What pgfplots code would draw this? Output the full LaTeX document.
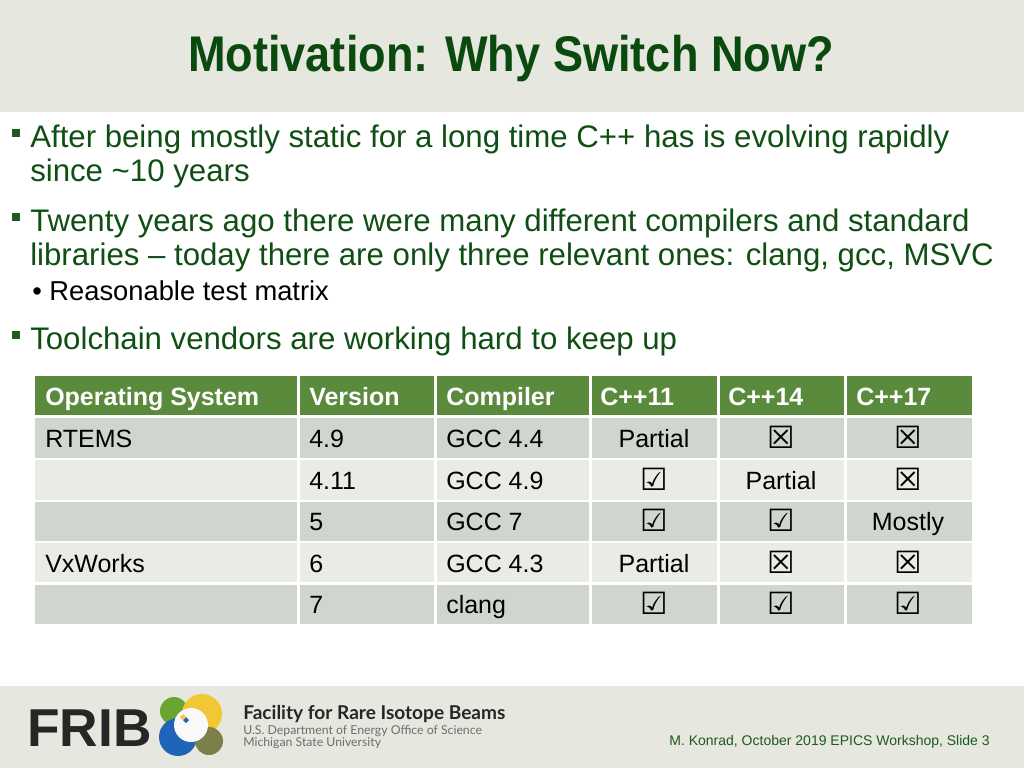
\documentclass[border=0pt]{standalone}
\usepackage{pgfplots}
\pgfplotsset{compat=1.18}
\usepackage{fontspec}
\setmainfont{Liberation Sans}
\newfontfamily\sym{DejaVu Sans}
\newfontfamily\lato{Lato}
\newfontfamily\titlefont[FakeStretch=0.9]{Liberation Sans Bold}

\definecolor{band}{HTML}{E6E7DF}
\definecolor{titlegreen}{HTML}{0A4A0E}
\definecolor{textgreen}{HTML}{0F4F14}
\definecolor{headgreen}{HTML}{5A8B3D}
\definecolor{rowdark}{HTML}{D0D6CF}
\definecolor{rowlight}{HTML}{E8EBE6}
\definecolor{bulletgreen}{HTML}{1E5A1E}
\definecolor{footgreen}{HTML}{1E5A1E}
\definecolor{fribgrey}{HTML}{6D6E70}
\definecolor{cgreen}{HTML}{6AA532}
\definecolor{cyellow}{HTML}{F2C735}
\definecolor{cblue}{HTML}{1F64B8}
\definecolor{colive}{HTML}{7C7F4A}

\newcommand{\body}{\fontsize{23.4}{28}\selectfont}
\newcommand{\sub}{\fontsize{20.5}{24}\selectfont}
\newcommand{\tab}{\fontsize{18.75}{22}\selectfont}
\newcommand{\chk}{\fontsize{23}{26}\selectfont\sym\bfseries}

\begin{document}
\begin{tikzpicture}
\begin{axis}[width=768pt, height=576pt, scale only axis,
  xmin=0, xmax=1024, ymin=0, ymax=768, y dir=reverse,
  hide axis, clip=false]
% background bands
\fill[white] (0,0) rectangle (1024,768);
\fill[band] (0,0) rectangle (1024,112);
\fill[band] (0,686) rectangle (1024,768);

% title
\node[text=titlegreen, font=\fontsize{37.6}{40}\selectfont\titlefont] at (511,59) {Motivation: Why Switch Now?};

% bullets
\fill[bulletgreen] (12,129) rectangle (20,137);
\fill[bulletgreen] (12,213) rectangle (20,221);
\fill[bulletgreen] (12,331) rectangle (20,339);
\begin{scope}[every node/.style={anchor=base west, inner sep=0, font=\body, text=textgreen}]
\node at (30,147) {After being mostly static for a long time C++ has is evolving rapidly};
\node at (30,181) {since {\char"7E}10 years};
\node at (30,231) {Twenty years ago there were many different compilers and standard};
\node at (30,265) {libraries -- today there are only three relevant ones: clang, gcc, MSVC};
\node at (30,349) {Toolchain vendors are working hard to keep up};
\end{scope}
\node[anchor=base west, inner sep=0, font=\sub] at (32,300) {\textbullet\ Reasonable test matrix};

% table rows
\fill[headgreen] (35,376) rectangle (972,415);
\fill[rowdark] (35,418) rectangle (972,458);
\fill[rowlight] (35,460) rectangle (972,500);
\fill[rowdark] (35,502) rectangle (972,541);
\fill[rowlight] (35,543) rectangle (972,582);
\fill[rowdark] (35,585) rectangle (972,624);
\draw[white, line width=2.25pt] (298,376) -- (298,624) (435,376) -- (435,624)
  (590,376) -- (590,624) (718,376) -- (718,624) (845,376) -- (845,624);

% header
\begin{scope}[every node/.style={anchor=base west, inner sep=0, text=white, font=\tab\bfseries}]
\node at (45,405) {Operating System};
\node at (309,405) {Version};
\node at (446,405) {Compiler};
\node at (600,405) {C++11};
\node at (728,405) {C++14};
\node at (856,405) {C++17};
\end{scope}

% body cells
\begin{scope}[every node/.style={anchor=base west, inner sep=0, font=\tab}]
\node at (45,447) {RTEMS};
\node at (45,572) {VxWorks};
\node at (309,447) {4.9};
\node at (309,489) {4.11};
\node at (309,530) {5};
\node at (309,572) {6};
\node at (309,613) {7};
\node at (446,447) {GCC 4.4};
\node at (446,489) {GCC 4.9};
\node at (446,530) {GCC 7};
\node at (446,572) {GCC 4.3};
\node at (446,613) {clang};
\end{scope}

\begin{scope}[every node/.style={anchor=base, inner sep=0, font=\tab}]
\node at (654,447) {Partial};
\node at (654,572) {Partial};
\node at (781,489) {Partial};
\node at (908,530) {Mostly};
\end{scope}
\begin{scope}[every node/.style={anchor=base, inner sep=0, font=\chk}]
\node at (654,490) {☑};
\node at (654,531) {☑};
\node at (654,614) {☑};
\node at (781,448) {☒};
\node at (781,531) {☑};
\node at (781,573) {☒};
\node at (781,614) {☑};
\node at (908,448) {☒};
\node at (908,490) {☒};
\node at (908,573) {☒};
\node at (908,614) {☑};
\end{scope}

% footer logo
\node[anchor=base west, inner sep=0, text=black!85, font=\fontsize{40}{44}\selectfont\bfseries] at (27,746) {FRIB};
\fill[cgreen] (174,711) circle[radius=14];
\fill[cyellow] (202,714) circle[radius=20];
\fill[cblue] (178,737) circle[radius=19];
\fill[colive] (209,741) circle[radius=14];
\fill[white!95!gray] (191,725) circle[radius=17];
\fill[cblue] (183,720) -- (186,717) -- (189,720) -- (186,723) -- cycle;
\fill[cyellow] (180,717) -- (183,714) -- (186,717) -- (183,720) -- cycle;
\node[anchor=base west, inner sep=0, text=black!85, font=\fontsize{14.3}{16}\selectfont\lato\bfseries] at (243,719) {Facility for Rare Isotope Beams};
\node[anchor=base west, inner sep=0, text=fribgrey, font=\fontsize{9.2}{11}\selectfont\lato] at (243,734) {U.S. Department of Energy Office of Science};
\node[anchor=base west, inner sep=0, text=fribgrey, font=\fontsize{9.2}{11}\selectfont\lato] at (243,746) {Michigan State University};

\node[anchor=base east, inner sep=0, text=footgreen, font=\fontsize{10.5}{12}\selectfont] at (990,745) {M. Konrad, October 2019 EPICS Workshop, Slide 3};
\end{axis}
\end{tikzpicture}
\end{document}
